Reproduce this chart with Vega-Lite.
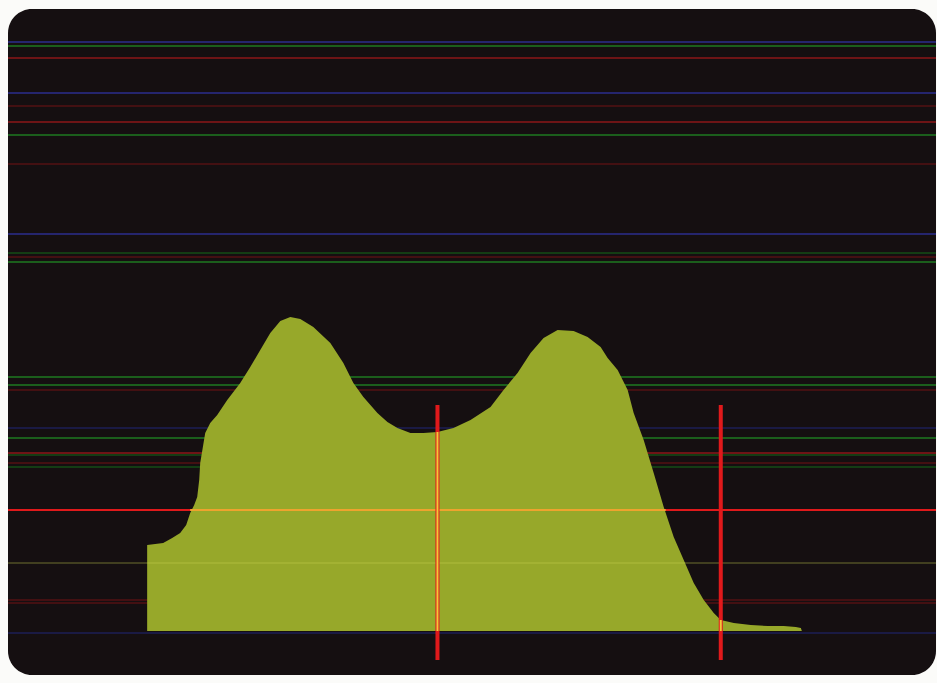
{
  "$schema": "https://vega.github.io/schema/vega-lite/v6.json",
  "width": 937,
  "height": 683,
  "autosize": {"type": "fit", "contains": "padding"},
  "padding": {"left": 8, "top": 9, "right": 1, "bottom": 8},
  "background": "#fbfbf9",
  "config": {"view": {"fill": "#150f11", "stroke": null, "cornerRadius": 24}},
  "datasets": {
    "hist": [
      {"level": 0, "count": 86}, {"level": 8, "count": 87}, {"level": 16, "count": 88},
      {"level": 25, "count": 93}, {"level": 33, "count": 98}, {"level": 39, "count": 106},
      {"level": 43, "count": 118}, {"level": 47, "count": 126}, {"level": 50, "count": 134},
      {"level": 52, "count": 151}, {"level": 53, "count": 168}, {"level": 56, "count": 186},
      {"level": 58, "count": 198}, {"level": 63, "count": 208}, {"level": 70, "count": 216},
      {"level": 80, "count": 231}, {"level": 93, "count": 248}, {"level": 103, "count": 264},
      {"level": 113, "count": 281}, {"level": 123, "count": 298}, {"level": 133, "count": 310},
      {"level": 143, "count": 314}, {"level": 153, "count": 312}, {"level": 166, "count": 304},
      {"level": 183, "count": 288}, {"level": 196, "count": 268}, {"level": 206, "count": 248},
      {"level": 216, "count": 234}, {"level": 230, "count": 218}, {"level": 240, "count": 209},
      {"level": 250, "count": 203}, {"level": 263, "count": 198}, {"level": 276, "count": 198},
      {"level": 290, "count": 199}, {"level": 306, "count": 203}, {"level": 323, "count": 211},
      {"level": 343, "count": 224}, {"level": 356, "count": 241}, {"level": 370, "count": 258},
      {"level": 383, "count": 278}, {"level": 396, "count": 293}, {"level": 410, "count": 301},
      {"level": 426, "count": 300}, {"level": 440, "count": 294}, {"level": 453, "count": 284},
      {"level": 460, "count": 273}, {"level": 470, "count": 261}, {"level": 480, "count": 241},
      {"level": 486, "count": 218}, {"level": 496, "count": 191}, {"level": 506, "count": 158},
      {"level": 516, "count": 124}, {"level": 526, "count": 94}, {"level": 536, "count": 71},
      {"level": 546, "count": 48}, {"level": 556, "count": 31}, {"level": 566, "count": 18},
      {"level": 573, "count": 11}, {"level": 586, "count": 8}, {"level": 603, "count": 6},
      {"level": 620, "count": 5}, {"level": 636, "count": 5}, {"level": 648, "count": 4},
      {"level": 653, "count": 3}, {"level": 654, "count": 0}
    ],
    "scanlines": [
      {"count": 589, "channel": "B"}, {"count": 585, "channel": "G"}, {"count": 573, "channel": "R"},
      {"count": 538, "channel": "B"}, {"count": 525, "channel": "r"}, {"count": 509, "channel": "R"},
      {"count": 496, "channel": "G"}, {"count": 467, "channel": "r"}, {"count": 397, "channel": "B"},
      {"count": 378, "channel": "g"}, {"count": 374, "channel": "r"}, {"count": 369, "channel": "G"},
      {"count": 254, "channel": "G"}, {"count": 246, "channel": "G"}, {"count": 241, "channel": "r"},
      {"count": 203, "channel": "b"}, {"count": 193, "channel": "G"}, {"count": 178, "channel": "R"},
      {"count": 176, "channel": "g"}, {"count": 168, "channel": "r"}, {"count": 164, "channel": "g"},
      {"count": 31, "channel": "r"}, {"count": 28, "channel": "r"},
      {"count": -2, "channel": "b"}
    ],
    "glow": [{"count": 68}],
    "cursors": [
      {"level": 290, "top": 226, "bottom": -29, "inside": 199},
      {"level": 573, "top": 226, "bottom": -29, "inside": 11}
    ],
    "threshold": [{"count": 121, "enter": 43, "exit": 518}]
  },
  "layer": [
    {
      "data": {"name": "scanlines"},
      "mark": {"type": "rule", "strokeWidth": 2, "clip": true},
      "encoding": {
        "y": {"field": "count", "type": "quantitative", "scale": {"domain": [-44, 622], "nice": false, "zero": false}, "axis": null},
        "color": {"field": "channel", "type": "nominal", "legend": null,
          "scale": {"domain": ["R", "r", "G", "g", "B", "b"], "range": ["#6e1416", "#431012", "#1b5e1c", "#143d14", "#25256e", "#1a1a44"]}}
      }
    },
    {
      "data": {"name": "threshold"},
      "mark": {"type": "rule", "strokeWidth": 2, "color": "#e0191b", "clip": true},
      "encoding": {
        "y": {"field": "count", "type": "quantitative", "scale": {"domain": [-44, 622], "nice": false, "zero": false}, "axis": null}
      }
    },
    {
      "data": {"name": "hist"},
      "mark": {"type": "area", "color": "#97a82a", "interpolate": "linear", "clip": true},
      "encoding": {
        "x": {"field": "level", "type": "quantitative", "scale": {"domain": [-139, 788], "nice": false, "zero": false}, "axis": null},
        "y": {"field": "count", "type": "quantitative", "scale": {"domain": [-44, 622], "nice": false, "zero": false}, "axis": null},
        "y2": {"datum": 0}
      }
    },
    {
      "data": {"name": "glow"},
      "mark": {"type": "rule", "strokeWidth": 2, "color": "#c8d050", "opacity": 0.25, "clip": true},
      "encoding": {
        "y": {"field": "count", "type": "quantitative", "scale": {"domain": [-44, 622], "nice": false, "zero": false}, "axis": null}
      }
    },
    {
      "data": {"name": "threshold"},
      "mark": {"type": "rule", "strokeWidth": 2, "color": "#eea32e", "clip": true},
      "encoding": {
        "x": {"field": "enter", "type": "quantitative", "scale": {"domain": [-139, 788], "nice": false, "zero": false}, "axis": null},
        "x2": {"field": "exit"},
        "y": {"field": "count", "type": "quantitative", "scale": {"domain": [-44, 622], "nice": false, "zero": false}, "axis": null}
      }
    },
    {
      "data": {"name": "cursors"},
      "mark": {"type": "rule", "strokeWidth": 4, "color": "#e0191b", "clip": true},
      "encoding": {
        "x": {"field": "level", "type": "quantitative", "scale": {"domain": [-139, 788], "nice": false, "zero": false}, "axis": null},
        "y": {"field": "top", "type": "quantitative", "scale": {"domain": [-44, 622], "nice": false, "zero": false}, "axis": null},
        "y2": {"field": "bottom"}
      }
    },
    {
      "data": {"name": "cursors"},
      "mark": {"type": "rule", "strokeWidth": 2, "color": "#f2c83a", "clip": true},
      "encoding": {
        "x": {"field": "level", "type": "quantitative", "scale": {"domain": [-139, 788], "nice": false, "zero": false}, "axis": null},
        "y": {"field": "inside", "type": "quantitative", "scale": {"domain": [-44, 622], "nice": false, "zero": false}, "axis": null},
        "y2": {"datum": 0}
      }
    }
  ]
}
